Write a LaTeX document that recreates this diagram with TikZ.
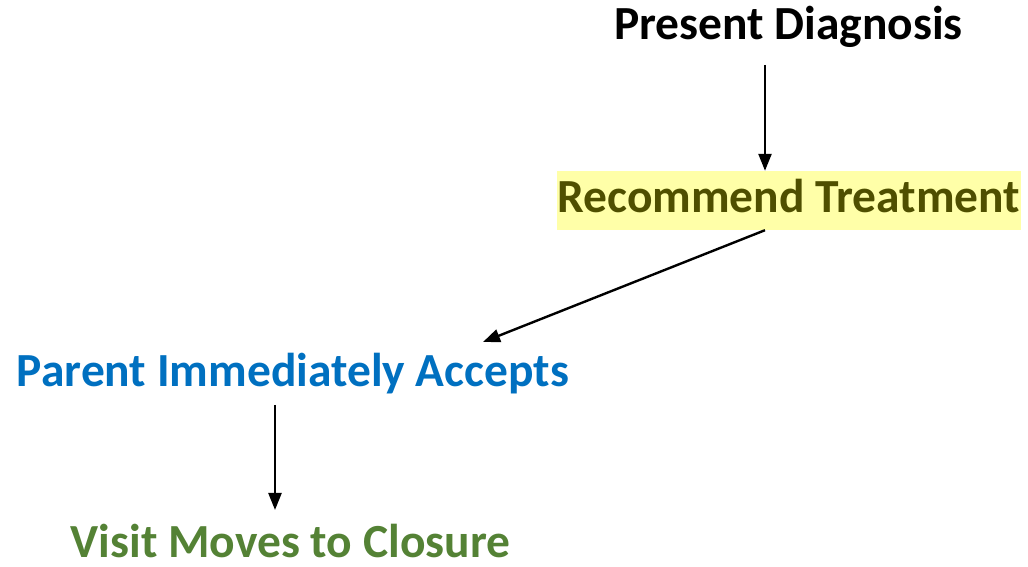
\documentclass[tikz,border=0pt]{standalone}
\usepackage{fontspec}
\setmainfont{Carlito}
\usepackage{xcolor}
\usetikzlibrary{positioning,arrows.meta}

\definecolor{olivetxt}{HTML}{4F4F00}
\definecolor{hilite}{HTML}{FFFFA8}
\definecolor{accblue}{HTML}{0070C0}
\definecolor{closegreen}{HTML}{548235}

\begin{document}
\begin{tikzpicture}[
  x=1pt, y=1pt,
  font=\bfseries\fontsize{47.5}{52}\selectfont,
  stage/.style={inner sep=0pt, anchor=base, align=center},
  arr/.style={-{Triangle[width=13pt,length=17pt]}, line width=2.4pt}
]
\useasboundingbox (0,0) rectangle (1028,567);

% --- steps of the visit ---
\node[stage] (diag) at (788.5,527.5) {Present Diagnosis};
\node[stage, fill=hilite, text=olivetxt, minimum width=464pt, text height=41.7pt, text depth=17.3pt] (treat) at (789,354.3) {Recommend Treatment};
\node[stage, text=accblue] (accept) at (293,180) {Parent Immediately Accepts};
\node[stage, text=closegreen] (closure) at (290.5,9.5) {Visit Moves to Closure};

% --- flow ---
\draw[arr] ([shift={(-23.5pt,-25.5pt)}]diag.base) -- ([xshift=-24pt]treat.north);
\draw[arr] ([xshift=-24pt]treat.south) -- ([shift={(190pt,45pt)}]accept.base);
\draw[arr] ([shift={(-18pt,-18pt)}]accept.base) -- ([shift={(-15.5pt,47.5pt)}]closure.base);

\end{tikzpicture}
\end{document}
